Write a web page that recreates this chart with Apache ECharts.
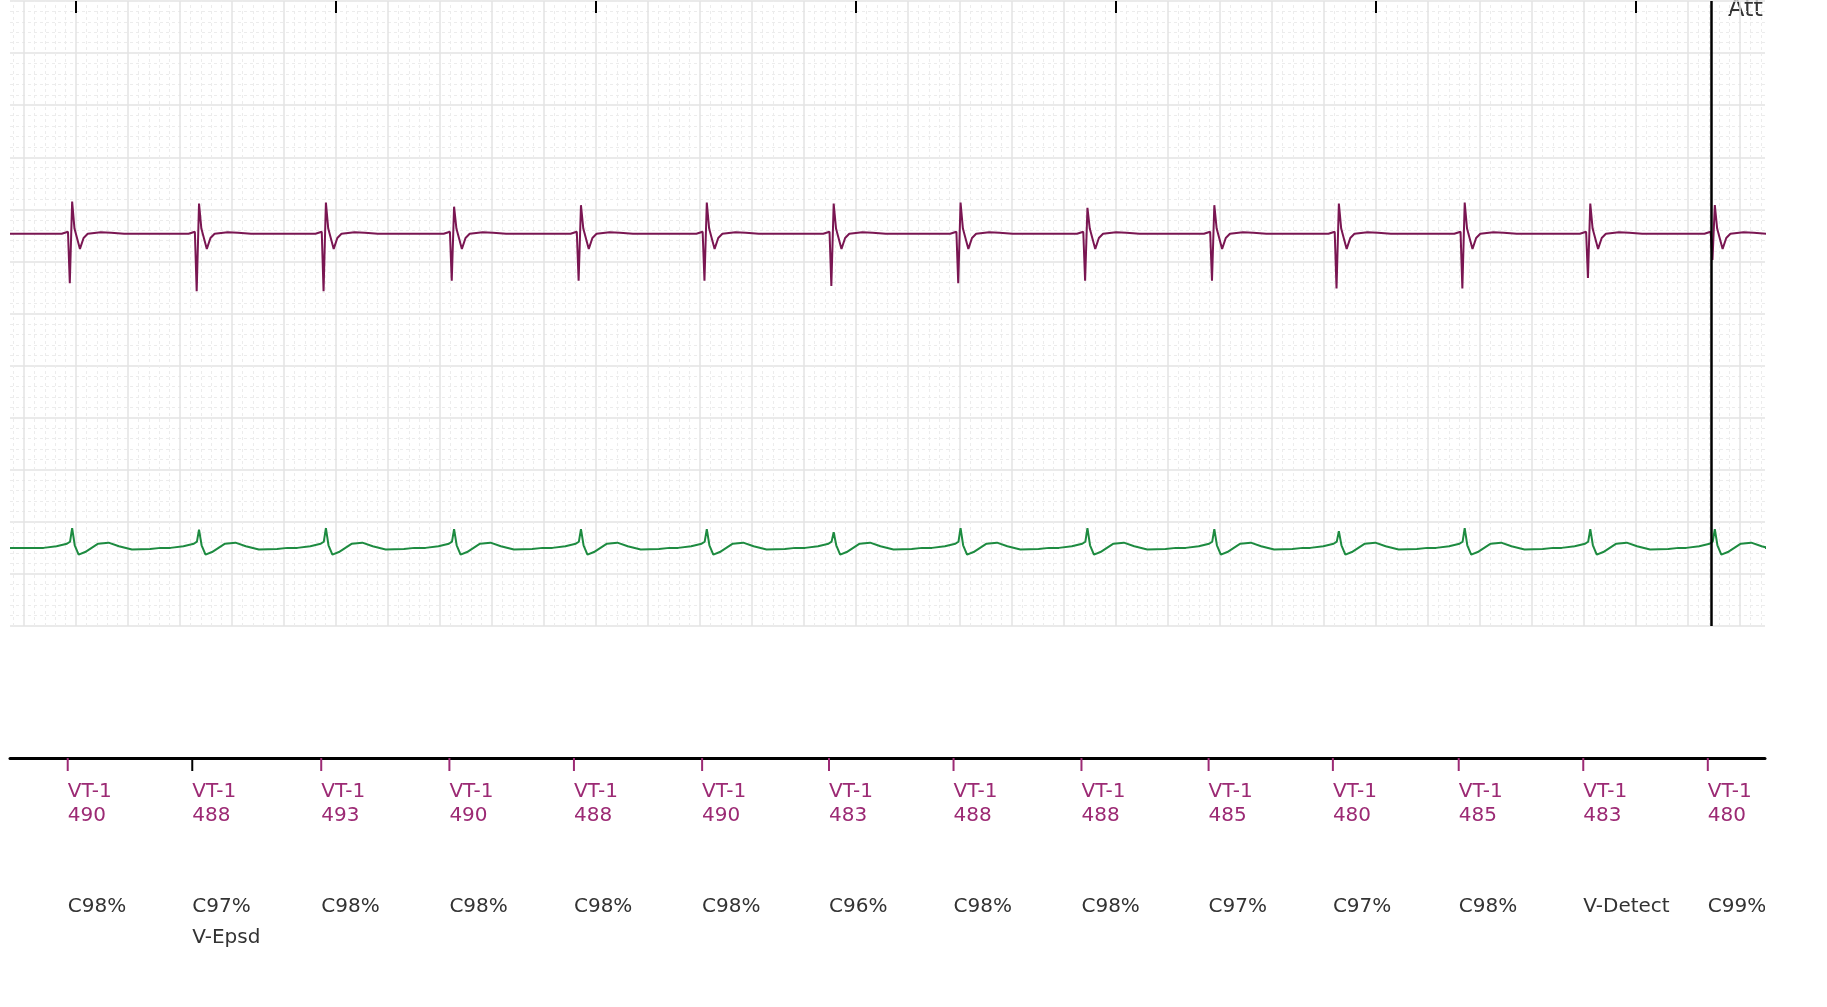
<!DOCTYPE html>
<html>
<head>
<meta charset="utf-8">
<script src="https://cdn.jsdelivr.net/npm/echarts@6/dist/echarts.min.js"></script>
<style>html,body{margin:0;padding:0;background:#fff}#chart{width:1827px;height:1007px}</style>
</head>
<body>
<div id="chart"></div>
<script>
// time of each R peak in ms (25 mm/s grid, 200 ms per big box)
var beatTimes = [-15, 473, 961, 1454, 1942, 2426, 2914, 3402, 3890, 4378, 4857, 5341, 5824, 6303];
var markerTimes = [-32, 447, 943, 1436, 1915, 2408, 2896, 3375, 3867, 4356, 4834, 5318, 5797, 6276];
var purplePeak = [0.62, 0.58, 0.6, 0.52, 0.55, 0.6, 0.58, 0.6, 0.5, 0.55, 0.58, 0.6, 0.58, 0.55];
var purpleTrough = [0.95, 1.1, 1.1, 0.9, 0.9, 0.9, 1.0, 0.95, 0.9, 0.9, 1.05, 1.05, 0.85, 0.5];
var greenPeak = [0.38, 0.35, 0.38, 0.36, 0.36, 0.36, 0.3, 0.38, 0.38, 0.36, 0.32, 0.38, 0.36, 0.36];
var intervalLabels = ['490', '488', '493', '490', '488', '490', '483', '488', '488', '485', '480', '485', '483', '480'];
var confLabels = ['C98%', 'C97%', 'C98%', 'C98%', 'C98%', 'C98%', 'C96%', 'C98%', 'C98%', 'C97%', 'C97%', 'C98%', 'V-Detect', 'C99%'];
var extraLabels = ['', 'V-Epsd', '', '', '', '', '', '', '', '', '', '', '', ''];
var topTicks = [0, 1000, 2000, 3000, 4000, 5000, 6000];
var cursorTime = 6291;

// beat shapes: [ms from peak, amplitude in big boxes]; 'P'/'T' scaled per beat
var purpleShape = [[-40, 0], [-16, 0.04], [-9, 'T'], [0, 'P'], [9, 0.1], [30, -0.29], [44, -0.08], [60, 0], [110, 0.03], [150, 0.02], [200, 0]];
var greenShape = [[-110, 0], [-60, 0.03], [-20, 0.08], [-8, 0.12], [0, 'P'], [10, 0.05], [25, -0.13], [50, -0.08], [100, 0.08], [140, 0.1], [180, 0.03], [230, -0.03], [300, -0.02], [340, 0]];
var purpleBase = 7.53, greenBase = 1.5;
var xMin = -254, xMax = 6496;

function buildTrace(shape, base, peaks, troughs) {
    var pts = [[xMin, base]];
    beatTimes.forEach(function(t, i) {
        shape.forEach(function(p) {
            var v = p[1];
            if (v === 'P') v = peaks[i];
            else if (v === 'T') v = -troughs[i];
            pts.push([t + p[0], base + v]);
        });
    });
    pts.push([xMax, base]);
    return pts;
}

// paper grid verticals (x axis min is not on the grid, so draw them as lines)
var gridLines = [];
for (var g = -240; g <= xMax; g += 40) {
    var major = g % 200 === 0;
    gridLines.push({
        xAxis: g,
        lineStyle: major ? { color: '#e3e3e3', width: 1.5, type: 'solid' } : { color: '#ececec', width: 1, type: [3, 3] }
    });
}

var chart = echarts.init(document.getElementById('chart'));
var purple = '#7a1652', labelPurple = '#9c2a74', green = '#1d8b40';

chart.setOption({
    animation: false,
    grid: [
        { left: 10, right: 62, top: 1, height: 625 },
        { left: 10, right: 62, top: 758, height: 220 }
    ],
    xAxis: [{
        gridIndex: 0, type: 'value', min: xMin, max: xMax,
        axisLine: { show: false }, axisTick: { show: false }, axisLabel: { show: false },
        splitLine: { show: false }
    }, {
        gridIndex: 1, type: 'value', min: xMin, max: xMax, position: 'top',
        axisLine: { show: true, onZero: false, lineStyle: { color: '#000', width: 3 } },
        axisTick: { show: false }, axisLabel: { show: false }, splitLine: { show: false }
    }],
    yAxis: [{
        gridIndex: 0, type: 'value', min: 0, max: 12, interval: 1,
        axisLine: { show: false }, axisTick: { show: false }, axisLabel: { show: false },
        splitLine: { show: true, lineStyle: { color: '#e3e3e3', width: 1.5 } },
        minorTick: { show: false, splitNumber: 5 },
        minorSplitLine: { show: true, lineStyle: { color: '#ececec', type: [3, 3] } }
    }, {
        gridIndex: 1, type: 'value', min: 0, max: 220, inverse: true, show: false
    }],
    series: [{
        type: 'line', xAxisIndex: 0, yAxisIndex: 0, showSymbol: false, clip: true,
        data: [],
        z: 0,
        markLine: { silent: true, z: 0, symbol: 'none', label: { show: false }, animation: false, data: gridLines }
    }, {
        type: 'line', xAxisIndex: 0, yAxisIndex: 0, showSymbol: false, clip: true,
        data: buildTrace(purpleShape, purpleBase, purplePeak, purpleTrough),
        lineStyle: { color: purple, width: 2 },
        z: 6,
        markLine: {
            silent: true, z: 7, symbol: 'none', label: { show: false },
            data: [{ xAxis: cursorTime, lineStyle: { color: '#000', width: 2.5, type: 'solid' } }].concat(
                topTicks.map(function(t) {
                    return [{ coord: [t, 12], lineStyle: { color: '#000', width: 2, type: 'solid' } }, { coord: [t, 11.77] }];
                }))
        }
    }, {
        type: 'line', xAxisIndex: 0, yAxisIndex: 0, showSymbol: false, clip: true,
        data: buildTrace(greenShape, greenBase, greenPeak, greenPeak),
        lineStyle: { color: green, width: 2 },
        z: 6
    }, {
        type: 'custom', xAxisIndex: 1, yAxisIndex: 1, clip: true,
        data: markerTimes.map(function(t, i) { return [t, i]; }),
        renderItem: function(params, api) {
            var i = api.value(1);
            var p = api.coord([api.value(0), 0]);
            var font = '20px "DejaVu Sans", sans-serif';
            var tickColor = extraLabels[i] ? '#000' : labelPurple;
            return {
                type: 'group',
                children: [
                    { type: 'rect', shape: { x: p[0] - 1, y: p[1], width: 2, height: 13 }, style: { fill: tickColor } },
                    { type: 'text', x: p[0], y: p[1] + 22, style: { text: 'VT-1\n' + intervalLabels[i], font: font, fill: labelPurple, lineHeight: 24 } },
                    { type: 'text', x: p[0], y: p[1] + 133, style: { text: confLabels[i] + (extraLabels[i] ? '\n' + extraLabels[i] : ''), font: font, fill: '#333', lineHeight: 31 } }
                ]
            };
        }
    }],
    graphic: [{
        type: 'text', left: 1728, top: -2,
        style: { text: 'Att', font: '24px "DejaVu Sans", sans-serif', fill: '#333' }
    }]
});
</script>
</body>
</html>
